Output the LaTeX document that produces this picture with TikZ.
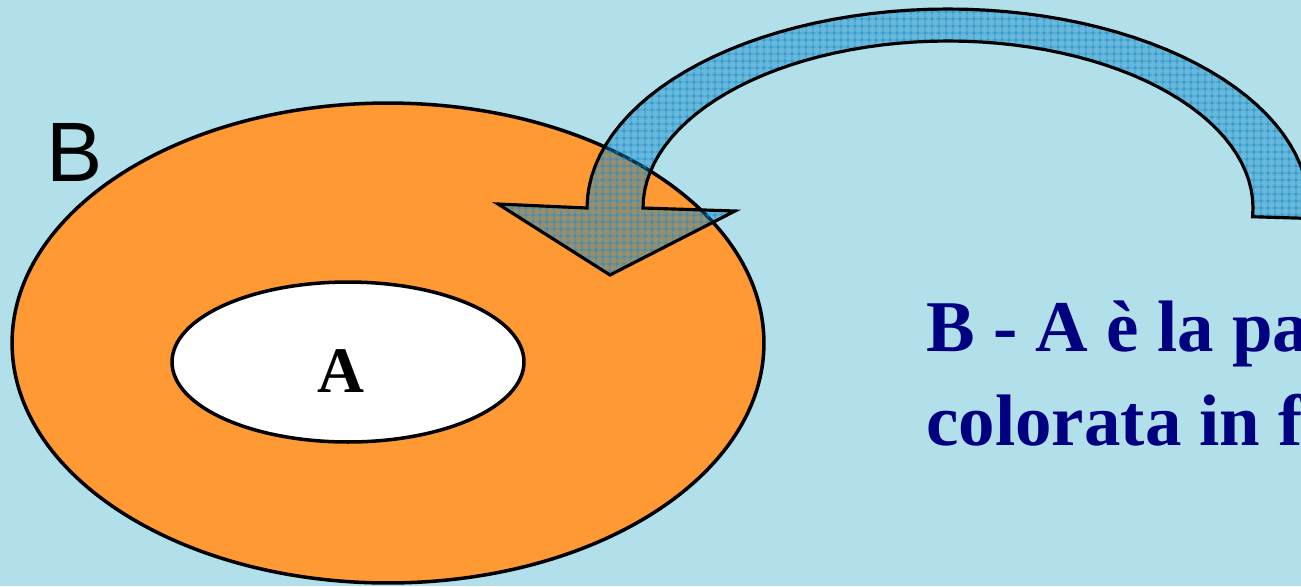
\documentclass[tikz,border=0pt]{standalone}
\usepackage{fontspec}
\setmainfont{Liberation Serif}
\newfontfamily\arialfont{Liberation Sans}
\usepackage{xcolor}
\definecolor{bgwater}{HTML}{B2E0EA}
\definecolor{setorange}{HTML}{FF9933}
\definecolor{bandblue}{RGB}{0,130,200}
\definecolor{gridblue}{RGB}{30,140,200}
\definecolor{textnavy}{HTML}{000080}
\usepackage{tikz}
\usetikzlibrary{
  shapes.geometric, patterns.meta, positioning
}

\begin{document}
\begin{tikzpicture}[
  x=0.02cm, y=-0.02cm,
  setshape/.style={ellipse, draw=black, line width=2pt,
    inner sep=0pt},
  arrowband/.style={draw=black, line width=1.8pt,
    preaction={fill=bandblue, fill opacity=0.42},
    pattern={Hatch[angle=0, distance=4pt, line width=0.5pt]},
    pattern color=gridblue},
  lbl/.style={anchor=base, inner sep=0pt,
    font=\fontsize{37}{40}\selectfont\bfseries},
  note/.style={anchor=base west, inner sep=0pt, align=left,
    text=textnavy, font=\fontsize{41.5}{53}\selectfont\bfseries}
]
  \useasboundingbox (0,0) rectangle (1301,586);
  \clip (0,0) rectangle (1301,586);
  \fill[bgwater] (0,0) rectangle (1301,586);

  \node[setshape, fill=setorange,
    minimum width=15.04cm, minimum height=9.6cm] (setB) at (388,343) {};
  \node[setshape, fill=white,
    minimum width=7.04cm, minimum height=3.2cm] (setA) at (348,362) {};
  \node[lbl] (labelA) at (341,392) {A};
  \node[anchor=base west, inner sep=0pt,
    font=\arialfont\fontsize{48}{50}\selectfont] (labelB) at (46,181) {B};

  % curved arrow
  \draw[arrowband] (643,208)
    -- plot[domain=180:-3, samples=60] ({948+305*cos(\x)},{208-167*sin(\x)})
    -- plot[domain=-3:180, samples=60] ({948+361*cos(\x)},{208-199*sin(\x)})
    -- (498,204) -- (610,275) -- (735,211) -- cycle;

  \node[note] (text) at (926,445) {B - A è la pa\\colorata in f};
\end{tikzpicture}
\end{document}
